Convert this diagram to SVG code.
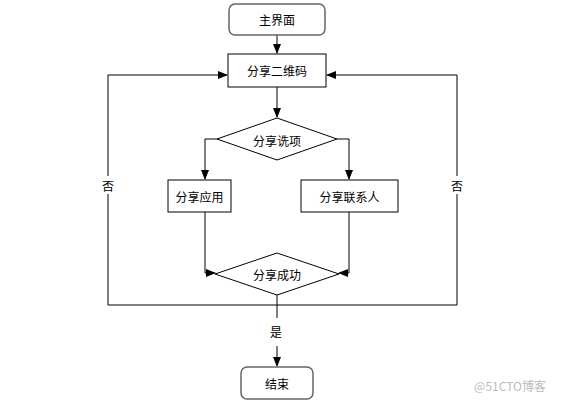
<svg xmlns="http://www.w3.org/2000/svg" width="563" height="401" viewBox="0 0 563 401">
<defs>
<marker id="arr" markerWidth="10" markerHeight="8" refX="9" refY="4" orient="auto" markerUnits="userSpaceOnUse">
<path d="M0,0 L10,4 L0,8 Z" fill="#000"/>
</marker>
<style>
.box{fill:#fff;stroke:#000;stroke-width:1}
.term{fill:#fff;stroke:#666;stroke-width:1.5}
.ln{fill:none;stroke:#000;stroke-width:1}
.t{font-family:"Noto Sans CJK SC","Noto Sans",sans-serif;font-size:12px;fill:#000;text-anchor:middle;dominant-baseline:central}
</style>
</defs>
<rect width="563" height="401" fill="#fff"/>
<g id="connectors">
<path class="ln" d="M277,35 V53" marker-end="url(#arr)"/>
<path class="ln" d="M277,87 V117" marker-end="url(#arr)"/>
<path class="ln" d="M217,139 H205 V179" marker-end="url(#arr)"/>
<path class="ln" d="M337,139 H349 V179" marker-end="url(#arr)"/>
<path class="ln" d="M205,212 V273 H215" marker-end="url(#arr)"/>
<path class="ln" d="M349,212 V273 H339" marker-end="url(#arr)"/>
<path class="ln" d="M277,295 V305 H108 V75 H227" marker-end="url(#arr)"/>
<path class="ln" d="M277,305 H457 V75 H327" marker-end="url(#arr)"/>
<path class="ln" d="M277,305 V318"/>
<path class="ln" d="M277,346 V366" marker-end="url(#arr)"/>
<rect x="98" y="176" width="20" height="18" fill="#fff"/>
<text class="t" x="108" y="185">否</text>
<rect x="447" y="176" width="20" height="18" fill="#fff"/>
<text class="t" x="457" y="185">否</text>
<text class="t" x="276" y="331">是</text>
</g>
<g id="main">
<rect class="term" x="229" y="4" width="96" height="31" rx="6"/>
<text class="t" x="277" y="19.5">主界面</text>
</g>
<g id="share-qr">
<rect class="box" x="228" y="54" width="98" height="33"/>
<text class="t" x="277" y="70.5">分享二维码</text>
</g>
<g id="share-option">
<path class="box" d="M277,118 L337,139 L277,160 L217,139 Z"/>
<text class="t" x="277" y="140">分享诜项</text>
</g>
<g id="share-app">
<rect class="box" x="168" y="180" width="63" height="32"/>
<text class="t" x="199.5" y="196">分享应用</text>
</g>
<g id="share-contact">
<rect class="box" x="301" y="180" width="97" height="32"/>
<text class="t" x="349.5" y="196">分享联系人</text>
</g>
<g id="share-success">
<path class="box" d="M277,253 L339,274 L277,295 L215,274 Z"/>
<text class="t" x="277" y="274">分享成功</text>
</g>
<g id="end">
<rect class="term" x="241" y="367" width="72" height="32" rx="6"/>
<text class="t" x="277" y="383">结束</text>
</g>
<text x="510" y="385" font-family="'Noto Sans CJK SC','Noto Sans',sans-serif" font-size="12" fill="#bbb" text-anchor="middle" dominant-baseline="central">@51CTO博客</text>
</svg>
